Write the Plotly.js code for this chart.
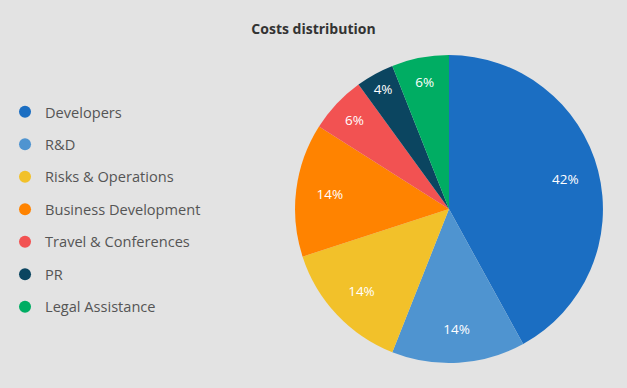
<!DOCTYPE html>
<html><head><meta charset="utf-8">
<script src="https://cdn.plot.ly/plotly-3.0.1.min.js"></script>
<style>html,body{margin:0;padding:0;background:#e3e3e3;}#c{width:627px;height:388px;}</style>
</head><body><div id="c"></div>
<script>
const categories = ["Developers","R&D","Risks & Operations","Business Development","Travel & Conferences","PR","Legal Assistance"];
const shares = [42,14,14,14,6,4,6];
const colors = ["#1b6ec2","#4f94d0","#f2c12a","#ff8300","#f25252","#0b4560","#00ad63"];

const FONT = "'Open Sans', Lato, sans-serif";
const pieDomain = {x: [0.4705, 0.9617], y: [0.0644, 0.858]};
const traces = [{
  type: "pie",
  values: shares,
  labels: categories,
  sort: false,
  direction: "clockwise",
  rotation: 0,
  marker: {colors: colors, line: {width: 0}},
  textinfo: "none",
  hoverinfo: "label+percent",
  showlegend: false,
  domain: pieDomain
}, {
  type: "pie",
  values: shares,
  labels: categories,
  sort: false,
  direction: "clockwise",
  rotation: 0,
  hole: 0.56,
  marker: {colors: categories.map(() => "rgba(0,0,0,0)"), line: {width: 0}},
  texttemplate: "%{value}%",
  textposition: "inside",
  insidetextorientation: "horizontal",
  textfont: {color: "#ffffff", size: 13.5, family: FONT},
  hoverinfo: "skip",
  showlegend: false,
  domain: pieDomain
}];
categories.forEach((c, i) => {
  traces.push({
    type: "scatter", mode: "markers", x: [null], y: [null],
    name: c, legendgroup: "g" + i,
    marker: {color: colors[i], size: 13, symbol: "circle"},
    showlegend: true, hoverinfo: "skip"
  });
});
const layout = {
  width: 627, height: 388,
  margin: {l: 0, r: 0, t: 0, b: 0},
  paper_bgcolor: "#e3e3e3", plot_bgcolor: "#e3e3e3",
  title: {text: "<b>Costs distribution</b>", x: 0.5, xanchor: "center", y: 0.925, yanchor: "middle",
          font: {family: FONT, size: 14, color: "#333333"}},
  xaxis: {visible: false, domain: [0, 0.01]},
  yaxis: {visible: false, domain: [0, 0.01]},
  legend: {x: 0.008, y: 0.753, xanchor: "left", yanchor: "top",
           font: {family: FONT, size: 14.6, color: "#555555"},
           tracegroupgap: 10.5, itemsizing: "constant", bgcolor: "rgba(0,0,0,0)"},
  showlegend: true
};
Plotly.newPlot("c", traces, layout, {displayModeBar: false, staticPlot: true});
</script></body></html>
